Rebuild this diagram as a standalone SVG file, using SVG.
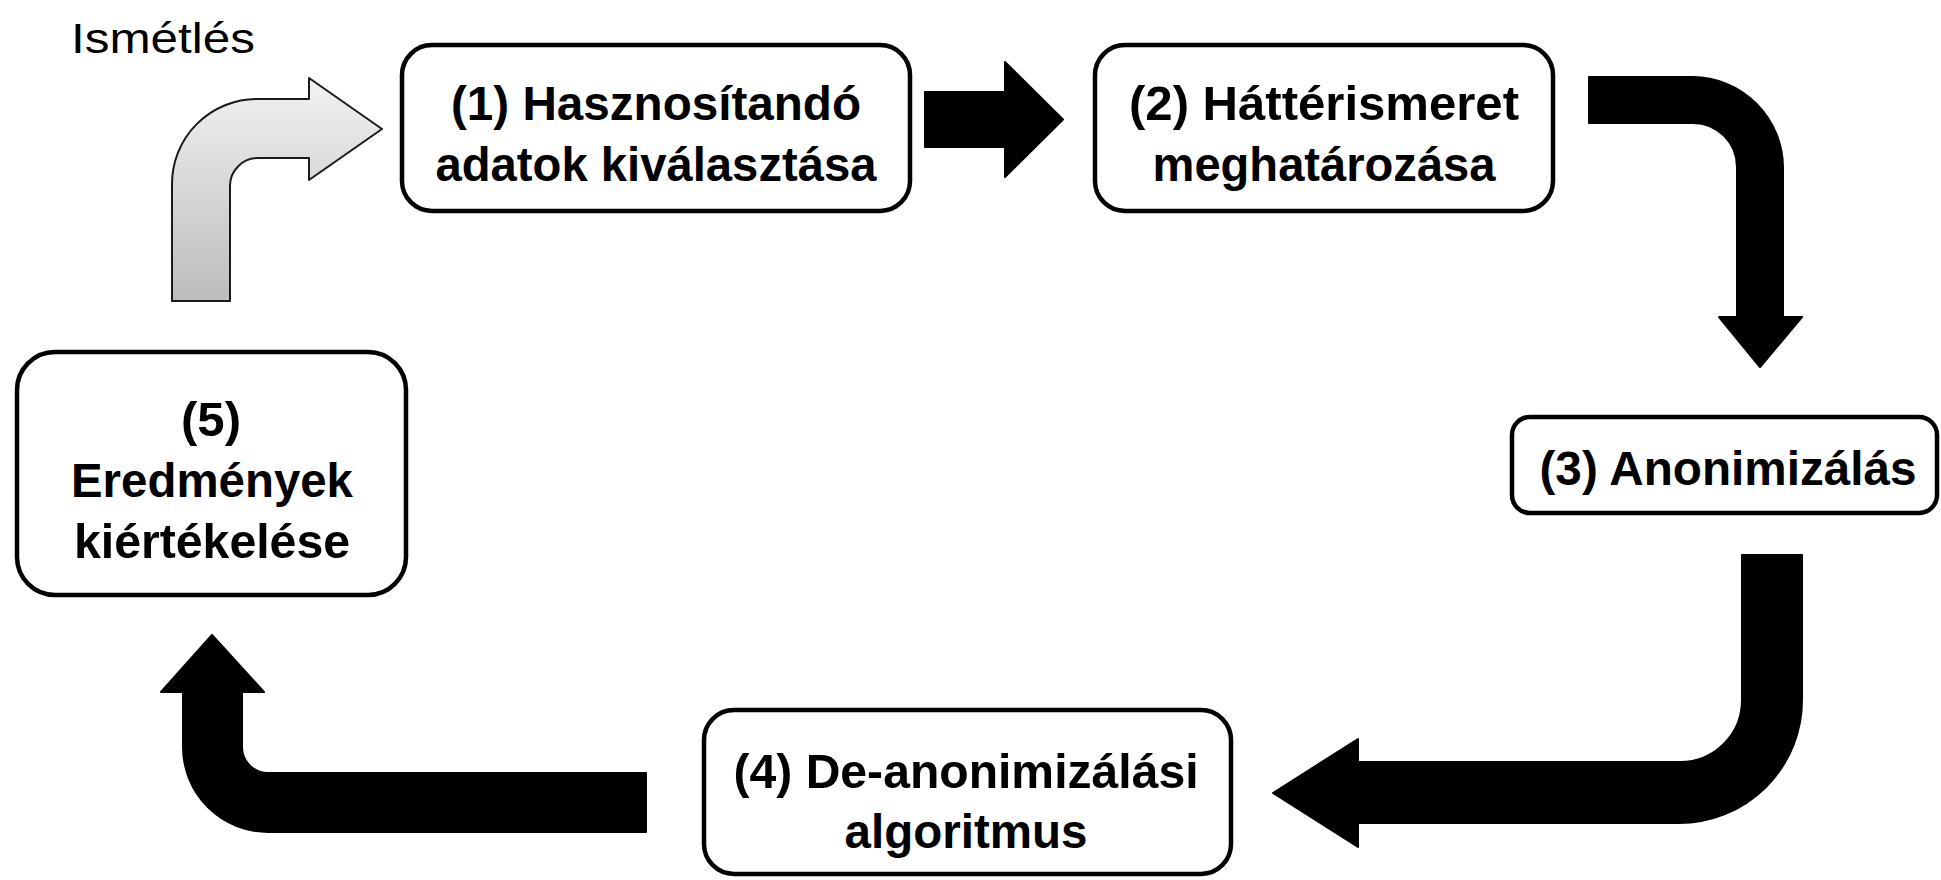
<svg xmlns="http://www.w3.org/2000/svg" width="1941" height="880" viewBox="0 0 1941 880">
  <defs>
    <linearGradient id="grayGrad" x1="0" y1="0" x2="0" y2="1">
      <stop offset="0" stop-color="#f2f2f2"/>
      <stop offset="1" stop-color="#bcbcbc"/>
    </linearGradient>
  </defs>
  <style>
    .box { fill: #ffffff; stroke: #000000; stroke-width: 4.5; }
    .lbl { font-family: "Liberation Sans", Arial, sans-serif; font-weight: bold; font-size: 48px; fill: #000000; text-anchor: middle; }
    .plain { font-family: "Liberation Sans", Arial, sans-serif; font-size: 43px; fill: #000000; }
    .blk { fill: #000000; stroke: #000000; stroke-width: 2; stroke-linejoin: round; }
    .gray { fill: url(#grayGrad); stroke: #1a1a1a; stroke-width: 2; stroke-linejoin: round; }
  </style>

  <text class="plain" x="71" y="53" textLength="184" lengthAdjust="spacingAndGlyphs">Ismétlés</text>

  <g id="connectors">
    <path id="repeat" class="gray" d="M172,301 V184 A85,85 0 0 1 257,99 H309 V78 L382,129 L309,180 V158 H258 A28,28 0 0 0 230,186 V301 Z"/>
    <path id="a1to2" class="blk" d="M925,92 H1005 V62 L1063,119.5 L1005,177 V147 H925 Z"/>
    <path id="a2to3" class="blk" d="M1589,77 H1693 A91,91 0 0 1 1783,167 V317 H1802 L1760,367 L1719,317 H1737 V167 A44,44 0 0 0 1693,123 H1589 Z"/>
    <path id="a3to4" class="blk" d="M1742,555 H1802 V700 A123,123 0 0 1 1679,823 H1358 V847 L1273,793 L1358,739 V762 H1679 A62,62 0 0 0 1742,700 Z"/>
    <path id="a4to5" class="blk" d="M646,773 V832 H268 A85,85 0 0 1 183,747 V692 H161 L212,635 L264,692 H242 V747 A26,26 0 0 0 268,773 Z"/>
  </g>

  <g id="node1">
    <rect class="box" x="402" y="45" width="508" height="166" rx="30" ry="30"/>
    <text class="lbl" x="656" y="120" textLength="410" lengthAdjust="spacingAndGlyphs">(1) Hasznosítandó</text>
    <text class="lbl" x="656" y="181" textLength="441" lengthAdjust="spacingAndGlyphs">adatok kiválasztása</text>
  </g>

  <g id="node2">
    <rect class="box" x="1095" y="45" width="458" height="166" rx="30" ry="30"/>
    <text class="lbl" x="1324" y="120" textLength="390" lengthAdjust="spacingAndGlyphs">(2) Háttérismeret</text>
    <text class="lbl" x="1324" y="181" textLength="343" lengthAdjust="spacingAndGlyphs">meghatározása</text>
  </g>

  <g id="node3">
    <rect class="box" x="1512" y="417" width="425" height="96" rx="18" ry="18"/>
    <text class="lbl" x="1728" y="485" textLength="377" lengthAdjust="spacingAndGlyphs">(3) Anonimizálás</text>
  </g>

  <g id="node4">
    <rect class="box" x="704" y="710" width="527" height="164" rx="30" ry="30"/>
    <text class="lbl" x="966" y="788" textLength="465" lengthAdjust="spacingAndGlyphs">(4) De-anonimizálási</text>
    <text class="lbl" x="966" y="848" textLength="243" lengthAdjust="spacingAndGlyphs">algoritmus</text>
  </g>

  <g id="node5">
    <rect class="box" x="17" y="352" width="389" height="243" rx="38" ry="38"/>
    <text class="lbl" x="211" y="436" textLength="60" lengthAdjust="spacingAndGlyphs">(5)</text>
    <text class="lbl" x="212" y="497" textLength="282" lengthAdjust="spacingAndGlyphs">Eredmények</text>
    <text class="lbl" x="212" y="558" textLength="276" lengthAdjust="spacingAndGlyphs">kiértékelése</text>
  </g>
</svg>
